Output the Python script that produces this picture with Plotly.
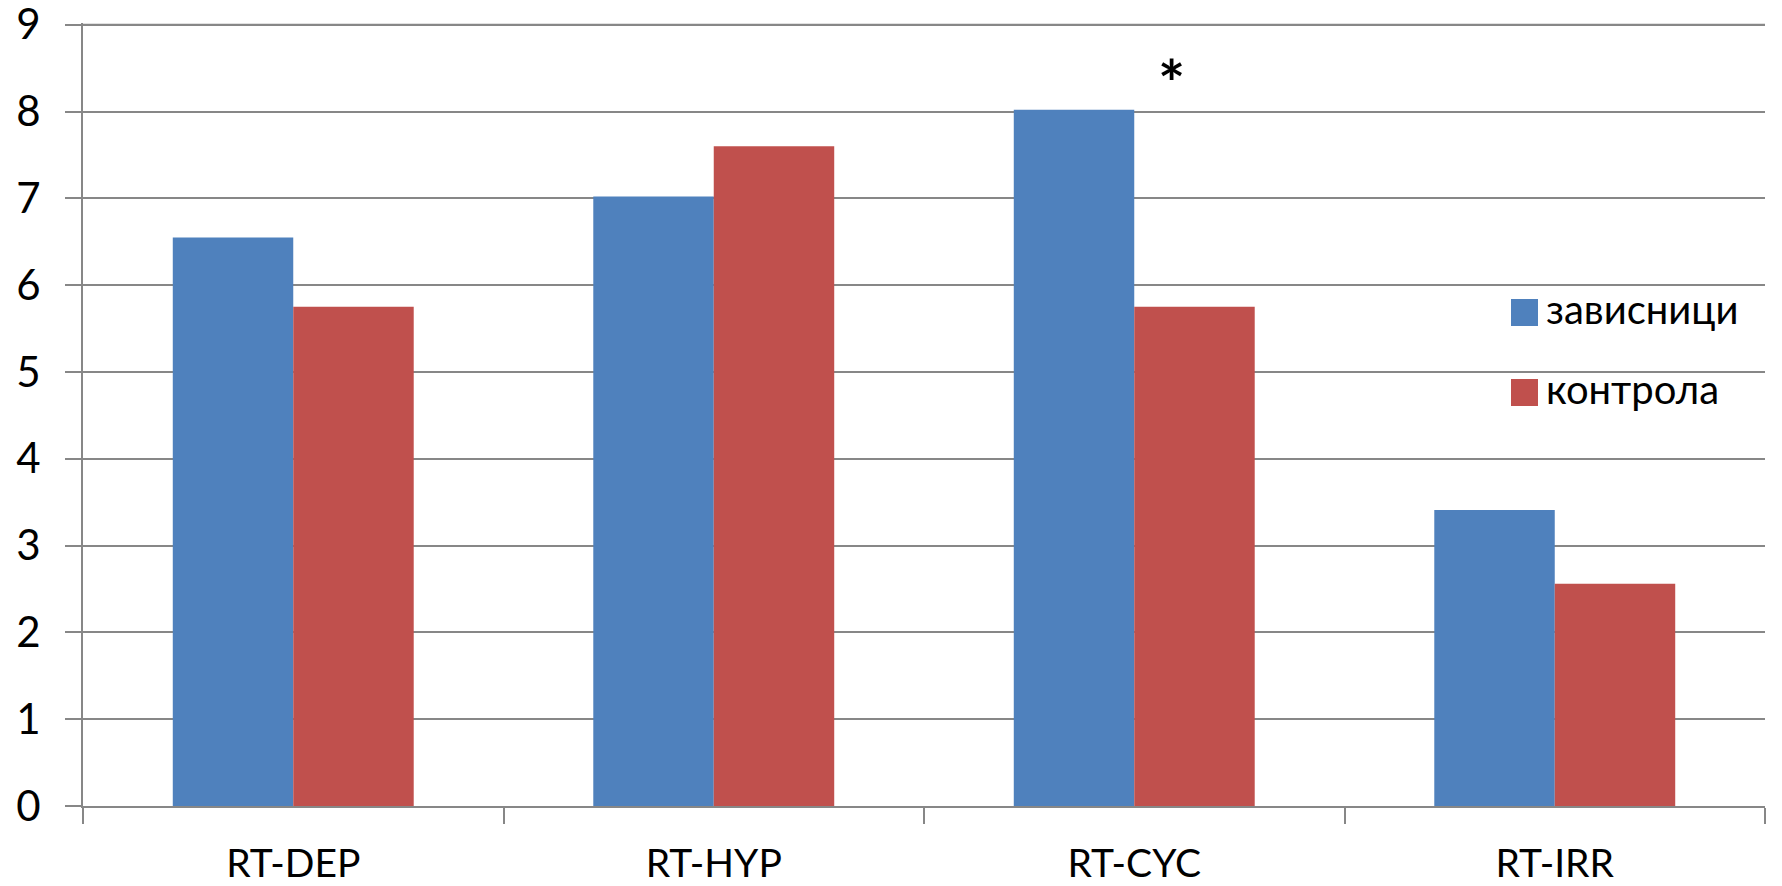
import plotly.graph_objects as go

categories = ["RT-DEP", "RT-HYP", "RT-CYC", "RT-IRR"]
series_names = ["зависници", "контрола"]
zavisnici = [6.55, 7.02, 8.02, 3.41]
kontrola = [5.75, 7.60, 5.75, 2.56]
y_ticks = [0, 1, 2, 3, 4, 5, 6, 7, 8, 9]
y_max = 9.02
star_label = "*"
star_category_pos = 2.088
star_value = 8.33

BLUE = "#4F81BD"
RED = "#C0504D"
GRID = "#878787"
FONT = "Lato, 'Open Sans', sans-serif"

W, H = 1782, 886
# plot area on screen: x 83..1765, y ~23..806
L, T, R, B = 83, 23, 1782 - 1765, 886 - 806
PW, PH = W - L - R, H - T - B

def px_x(p):  # screen px -> paper
    return (p - L) / PW

def px_y(p):
    return (H - B - p) / PH

fig = go.Figure()
fig.add_trace(go.Bar(x=categories, y=zavisnici, name=series_names[0],
                     marker=dict(color=BLUE, line=dict(width=0))))
fig.add_trace(go.Bar(x=categories, y=kontrola, name=series_names[1],
                     marker=dict(color=RED, line=dict(width=0))))

fig.update_layout(
    width=W, height=H,
    margin=dict(l=L, r=R, t=T, b=B, pad=0, autoexpand=False),
    paper_bgcolor="white", plot_bgcolor="white",
    barmode="group", bargap=0.427, bargroupgap=0,
    showlegend=False,
    font=dict(family=FONT, size=39, color="black"),
)
fig.update_yaxes(range=[0, y_max], tickvals=y_ticks, ticktext=[str(v) for v in y_ticks],
                 showgrid=True, gridcolor=GRID, gridwidth=2,
                 showline=True, linecolor=GRID, linewidth=2,
                 ticks="outside", ticklen=16, tickwidth=2, tickcolor=GRID,
                 ticklabelstandoff=16, ticklabeloverflow="allow",
                 zeroline=False, automargin=False,
                 tickfont=dict(family=FONT, size=42))
fig.update_xaxes(showline=True, linecolor=GRID, linewidth=2,
                 ticks="outside", tickson="boundaries", ticklen=16, tickwidth=2,
                 tickcolor=GRID, ticklabelstandoff=22, showgrid=False, automargin=False,
                 tickfont=dict(family=FONT, size=39))

# top gridline (plotly drops the grid line nearest the plot edge)
fig.add_shape(type="line", xref="paper", yref="y", x0=0, x1=1, y0=y_ticks[-1], y1=y_ticks[-1],
              line=dict(color=GRID, width=2), layer="below")

# legend drawn manually (large square swatches like the original)
sw = [(299, BLUE, series_names[0]), (379, RED, series_names[1])]
for top, col, name in sw:
    fig.add_shape(type="rect", xref="paper", yref="paper",
                  x0=px_x(1511), x1=px_x(1538), y0=px_y(top + 27), y1=px_y(top),
                  fillcolor=col, line=dict(width=0))
    fig.add_annotation(xref="paper", yref="paper", x=px_x(1544), y=px_y(top + 10),
                       text=name, showarrow=False, xanchor="left", yanchor="middle",
                       font=dict(family=FONT, size=40, color="black"))

fig.add_annotation(x=star_category_pos, y=star_value, xref="x", yref="y",
                   text="<b>" + star_label + "</b>", showarrow=False,
                   xanchor="center", yanchor="middle",
                   font=dict(family=FONT, size=64, color="black"))

fig.write_html("out.html", config={"displayModeBar": False},
               post_script="document.body.style.margin='0';")
